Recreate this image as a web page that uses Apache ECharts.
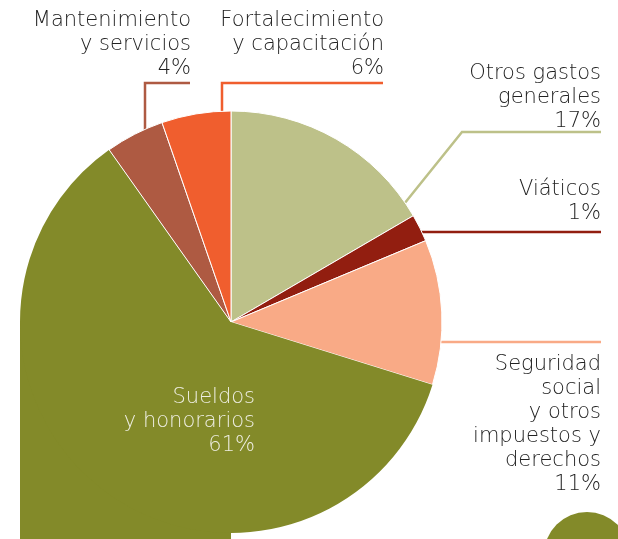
<!DOCTYPE html>
<html>
<head>
<meta charset="utf-8">
<script src="https://cdn.jsdelivr.net/npm/echarts@6/dist/echarts.min.js"></script>
<style>
  html, body { margin: 0; padding: 0; background: #fff; }
  #chart { width: 618px; height: 539px; }
</style>
</head>
<body>
<div id="chart"></div>
<script>
// ---- data ----
const categories = [
  'Otros gastos\ngenerales',
  'Viáticos',
  'Seguridad\nsocial\ny otros\nimpuestos y\nderechos',
  'Sueldos\ny honorarios',
  'Mantenimiento\ny servicios',
  'Fortalecimiento\ny capacitación'
];
const values = [16.6, 2.1, 11.1, 60.4, 4.5, 5.3];
const shownPct = ['17%', '1%', '11%', '61%', '4%', '6%'];
const colors = ['#BDC189', '#921E10', '#F9AA86', '#838A29', '#AE5A42', '#F05E2E'];

// ---- layout constants ----
const cx = 231, cy = 322, R = 211;
const font = 'DejaVu Sans';

function edgeYAtX(x) { return cy - Math.sqrt(R * R - (x - cx) * (x - cx)); }
function edgeXAtY(y) { return cx + Math.sqrt(R * R - (y - cy) * (y - cy)); }
function pointAtAngle(deg) {
  const a = deg * Math.PI / 180;
  return [cx + R * Math.sin(a), cy - R * Math.cos(a)];
}
function sliceAngle(i, frac) {
  const total = values.reduce((s, v) => s + v, 0);
  let start = 0;
  for (let k = 0; k < i; k++) start += values[k];
  return (start + frac * values[i]) / total * 360;
}

const chart = echarts.init(document.getElementById('chart'));

const data = categories.map((name, i) => {
  const item = { name: name, value: values[i], itemStyle: { color: colors[i] } };
  if (i === 3) {
    item.itemStyle.borderWidth = 0;
    item.label = { color: '#EEEEE2' };
    item.labelLine = { show: false };
  }
  return item;
});

chart.setOption({
  animation: false,
  graphic: [
    {
      type: 'rect', z: 0,
      shape: { x: cx - R, y: cy, width: R, height: 539 - cy + 5 },
      style: { fill: colors[3] }
    },
    {
      type: 'circle', z: 0,
      shape: { cx: 587, cy: 555, r: 43 },
      style: { fill: colors[3] }
    }
  ],
  series: [{
    type: 'pie',
    z: 2,
    center: [cx, cy],
    radius: [0, R],
    startAngle: 90,
    clockwise: true,
    avoidLabelOverlap: false,
    itemStyle: { borderColor: '#ffffff', borderWidth: 1 },
    label: {
      show: true,
      position: 'outside',
      fontFamily: font,
      fontSize: 21,
      fontWeight: 300,
      lineHeight: 24,
      color: '#222222',
      align: 'right',
      formatter: p => p.name + '\n' + shownPct[p.dataIndex]
    },
    labelLine: { show: true, smooth: false, lineStyle: { width: 2.5 } },
    labelLayout: function (params) {
      const i = params.dataIndex;
      switch (i) {
        case 0: {
          const s = pointAtAngle(sliceAngle(0, 0.93));
          return { x: 601, y: 134, align: 'right', verticalAlign: 'bottom',
                   labelLinePoints: [s, [462, 132], [601, 132]] };
        }
        case 1: {
          const y = 232;
          return { x: 601, y: 226, align: 'right', verticalAlign: 'bottom',
                   labelLinePoints: [[edgeXAtY(y) - 2, y], [500, y], [601, y]] };
        }
        case 2: {
          const y = 342;
          return { x: 601, y: 353, align: 'right', verticalAlign: 'top',
                   labelLinePoints: [[edgeXAtY(y) - 2, y], [500, y], [601, y]] };
        }
        case 3:
          return { x: 255, y: 386, align: 'right', verticalAlign: 'top' };
        case 4: {
          const x = 145;
          return { x: 191, y: 81, align: 'right', verticalAlign: 'bottom',
                   labelLinePoints: [[x, edgeYAtX(x) + 2], [x, 83], [190, 83]] };
        }
        case 5: {
          const x = 222;
          return { x: 384, y: 81, align: 'right', verticalAlign: 'bottom',
                   labelLinePoints: [[x, edgeYAtX(x) + 2], [x, 83], [383, 83]] };
        }
      }
    },
    data: data
  }]
});
</script>
</body>
</html>
